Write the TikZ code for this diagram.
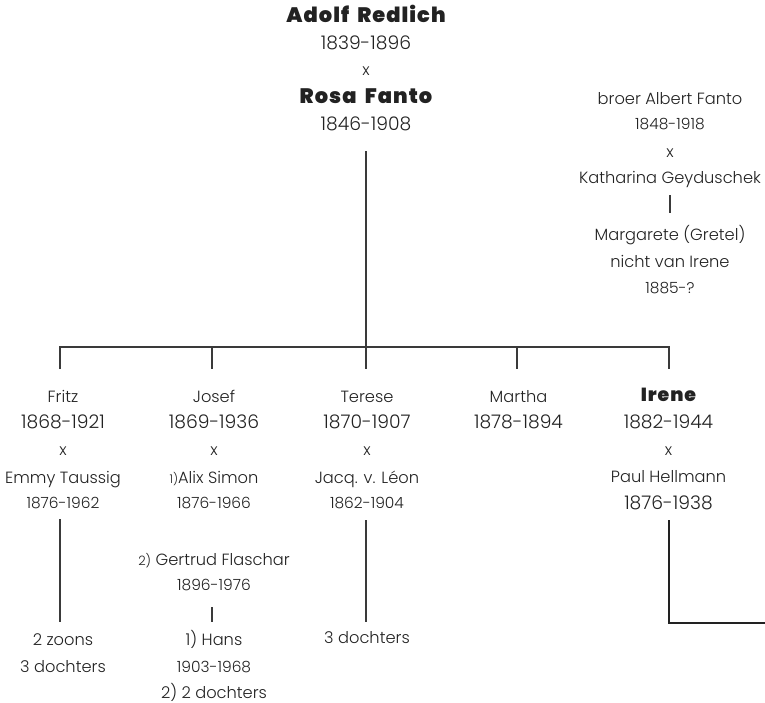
\documentclass[tikz,border=0pt]{standalone}
\usepackage{fontspec}
\setmainfont{Poppins}[UprightFont=* Light, BoldFont=* Black]
\newfontfamily\heavyfont{Poppins}[UprightFont=* Black, LetterSpace=5, WordSpace=1.8]
\definecolor{txt}{HTML}{222222}
\definecolor{ln}{HTML}{3A3A3A}
\tikzset{
  big/.style={anchor=base,inner sep=0pt,text=txt,font=\fontsize{16.3}{19}\selectfont},
  dat/.style={anchor=base,inner sep=0pt,text=txt,font=\fontsize{18.8}{21}\selectfont},
  sml/.style={anchor=base,inner sep=0pt,text=txt,font=\fontsize{15.5}{18}\selectfont},
  xx/.style={anchor=base,inner sep=0pt,text=txt,font=\fontsize{16}{18}\selectfont},
  hvy/.style={anchor=base,inner sep=0pt,text=txt,font=\fontsize{21}{24}\heavyfont},
  hvs/.style={anchor=base,inner sep=0pt,text=txt,font=\fontsize{19}{22}\heavyfont},
  conn/.style={draw=ln,line width=1.1bp},
  thick conn/.style={draw=txt,line width=2.6bp}
}
\begin{document}
\begin{tikzpicture}[x=1bp,y=-1bp]
\useasboundingbox (0,0) rectangle (765,703);
% top couple
\node[hvy] (adolf) at (366,23) {Adolf Redlich};
\node[dat] (adolfd) at (366,50) {1839-1896};
\node[xx] (x0) at (366,76) {x};
\node[hvy] (rosa) at (366,104) {Rosa Fanto};
\node[dat] (rosad) at (366,131) {1846-1908};
% right group
\node[big] (albert) at (670,105) {broer Albert Fanto};
\node[sml] (albertd) at (670,130) {1848-1918};
\node[xx] (x1) at (670,157) {x};
\node[big] (kath) at (670,183) {Katharina Geyduschek};
\node[big] (marg) at (670,240) {Margarete (Gretel)};
\node[big] (nicht) at (670,267) {nicht van Irene};
\node[sml] (margd) at (670,293) {1885-?};
% children row
\node[big] (fritz) at (63,402) {Fritz};
\node[dat] (fritzd) at (63,428) {1868-1921};
\node[xx] (xf) at (63,455) {x};
\node[big] (emmy) at (63,483) {Emmy Taussig};
\node[sml] (emmyd) at (63,508) {1876-1962};
\node[big] (josef) at (214,402) {Josef};
\node[dat] (josefd) at (214,428) {1869-1936};
\node[xx] (xj) at (214,455) {x};
\node[big] (alix) at (214,483) {{\fontsize{12}{14}\selectfont 1)}Alix Simon};
\node[sml] (alixd) at (214,508) {1876-1966};
\node[big] (gert) at (214,565) {{\fontsize{13}{15}\selectfont 2)} Gertrud Flaschar};
\node[sml] (gertd) at (214,590) {1896-1976};
\node[big] (terese) at (367,402) {Terese};
\node[dat] (tersed) at (367,428) {1870-1907};
\node[xx] (xt) at (367,455) {x};
\node[big] (jacq) at (367,483) {Jacq. v. L\'eon};
\node[sml] (jacqd) at (367,508) {1862-1904};
\node[big] (martha) at (518.5,402) {Martha};
\node[dat] (marthad) at (518.5,428) {1878-1894};
\node[hvs] (irene) at (668.5,401) {Irene};
\node[dat] (irened) at (668.5,428) {1882-1944};
\node[xx] (xi) at (668.5,455) {x};
\node[big] (paul) at (668.5,482) {Paul Hellmann};
\node[dat] (pauld) at (668.5,509) {1876-1938};
% grandchildren
\node[big] (fk1) at (63,645) {2 zoons};
\node[big] (fk2) at (63,672) {3 dochters};
\node[big] (jk1) at (214,645) {1) Hans};
\node[sml] (jk2) at (214,672) {1903-1968};
\node[big] (jk3) at (214,698) {2) 2 dochters};
\node[big] (tk1) at (367,643) {3 dochters};
% connector points
\coordinate (top0) at (366,151);
\coordinate (bar) at (366,347);
\coordinate (barL) at (60,347);
\coordinate (barR) at (669,347);
\coordinate (dF) at (60,369);
\coordinate (dJ) at (212,369);
\coordinate (bJ) at (212,347);
\coordinate (dT) at (366,369);
\coordinate (dM) at (517,369);
\coordinate (bM) at (517,347);
\coordinate (dI) at (669,369);
\coordinate (k0) at (670,195);
\coordinate (k1) at (670,213);
\coordinate (f0) at (60,519);
\coordinate (f1) at (60,622);
\coordinate (g0) at (212,607);
\coordinate (g1) at (212,622);
\coordinate (t0) at (366,520);
\coordinate (t1) at (366,622);
\coordinate (i0) at (669,520);
\coordinate (i1) at (669,623);
\coordinate (i2) at (766,623);
\draw[conn] (top0) -- (bar);
\draw[conn] (dF) -- (barL) -- (barR) -- (dI);
\draw[conn] (bJ) -- (dJ);
\draw[conn] (bar) -- (dT);
\draw[conn] (bM) -- (dM);
\draw[conn] (k0) -- (k1);
\draw[conn] (f0) -- (f1);
\draw[conn] (g0) -- (g1);
\draw[conn] (t0) -- (t1);
\draw[thick conn] (i0) -- (i1) -- (i2);
\end{tikzpicture}
\end{document}
